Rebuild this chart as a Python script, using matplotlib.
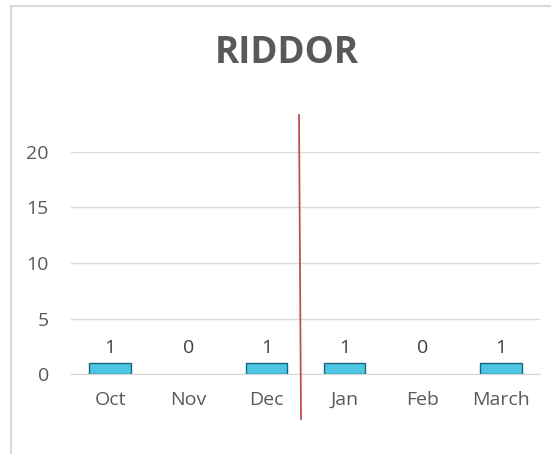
import matplotlib
matplotlib.use("Agg")
import matplotlib.pyplot as plt
from matplotlib.lines import Line2D

months = ["Oct", "Nov", "Dec", "Jan", "Feb", "March"]
riddor = [1, 0, 1, 1, 0, 1]
yticks = [0, 5, 10, 15, 20]

plt.rcParams['font.family'] = ['Open Sans', 'DejaVu Sans']
fig = plt.figure(figsize=(5.51, 4.54), dpi=100)
W, H = 551, 454
ax = fig.add_axes([71/W, 1-374/H, (540-71)/W, (374-152)/H])

x = list(range(len(months)))
lw = [1.0 if v > 0 else 0 for v in riddor]
ax.bar(x, riddor, width=0.53, color="#4CC6E2", edgecolor="#1D6679", linewidth=lw, zorder=3)
for i, v in zip(x, riddor):
    ax.annotate(str(v), xy=(i, 1.0), xytext=(0, 4), textcoords="offset points",
                ha="center", va="bottom", fontsize=14, color="#404040")

ax.set_xlim(-0.5, len(months)-0.5)
ax.set_ylim(0, 20)
ax.set_yticks(yticks)
ax.set_xticks(x)
ax.set_xticklabels(months)
ax.tick_params(axis='both', length=0, labelsize=14, labelcolor="#595959")
ax.tick_params(axis='x', pad=12)
ax.tick_params(axis='y', pad=16)
ax.grid(axis='y', color="#D9D9D9", linewidth=1)
ax.set_axisbelow(True)
for s in ["top", "right", "left"]:
    ax.spines[s].set_visible(False)
ax.spines["bottom"].set_color("#D9D9D9")

fig.text(287/W, 1-53/H, "RIDDOR", ha="center", va="center", fontsize=26.5, fontweight="bold", color="#595959")

# chart border
fig.add_artist(Line2D([11/W, 11/W], [0, 1-6/H], color="#D9D9D9", linewidth=1.5))
fig.add_artist(Line2D([11/W, 1], [1-6/H, 1-6/H], color="#D9D9D9", linewidth=1.5))

# red divider line
fig.add_artist(Line2D([299/W, 301/W], [1-115/H, 1-419/H], color="#C0504D", linewidth=1.3))

fig.savefig("out.png", dpi=100)
